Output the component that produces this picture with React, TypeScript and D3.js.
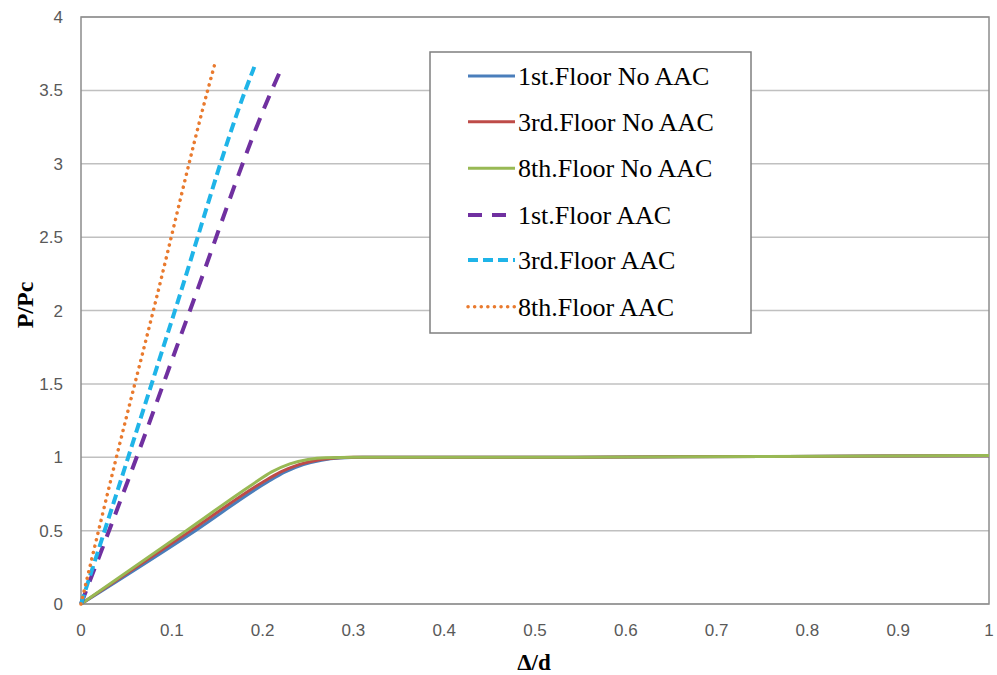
import React from "react";
import * as d3 from "d3";

const W = 997;
const H = 675;

const xTicks = [0, 0.1, 0.2, 0.3, 0.4, 0.5, 0.6, 0.7, 0.8, 0.9, 1];
const yTicks = [0, 0.5, 1, 1.5, 2, 2.5, 3, 3.5, 4];

const floor1NoX = [0, 0.126, 0.205, 0.225, 0.245, 0.265, 0.285, 0.31, 0.5, 0.66, 0.88, 1];
const floor1NoY = [0, 0.5, 0.83, 0.9, 0.95, 0.98, 0.995, 1.0, 1.0, 1.003, 1.008, 1.01];
const floor3NoX = [0, 0.121, 0.2, 0.22, 0.24, 0.26, 0.28, 0.3, 0.5, 0.66, 0.88, 1];
const floor3NoY = [0, 0.5, 0.83, 0.9, 0.95, 0.98, 0.995, 1.0, 1.0, 1.003, 1.008, 1.01];
const floor8NoX = [0, 0.116, 0.19, 0.21, 0.23, 0.25, 0.27, 0.3, 0.5, 0.66, 0.88, 1];
const floor8NoY = [0, 0.5, 0.82, 0.9, 0.955, 0.985, 0.997, 1.0, 1.0, 1.003, 1.008, 1.012];

const floor1AacX = [0, 0.0613, 0.12, 0.21, 0.222];
const floor1AacY = [0, 1, 2, 3.5, 3.667];
const floor3AacX = [0, 0.052, 0.1035, 0.181, 0.1909];
const floor3AacY = [0, 1, 2, 3.5, 3.66];
const floor8AacX = [0, 0.039, 0.0797, 0.1395, 0.1468];
const floor8AacY = [0, 1, 2, 3.5, 3.667];

const seriesNames = [
  "1st.Floor No AAC",
  "3rd.Floor No AAC",
  "8th.Floor No AAC",
  "1st.Floor AAC",
  "3rd.Floor AAC",
  "8th.Floor AAC",
];

type Style = { color: string; width: number; dash?: string; cap?: string };

const styles: Style[] = [
  { color: "#4a7ebb", width: 3 },
  { color: "#be4b48", width: 3 },
  { color: "#98b954", width: 3 },
  { color: "#7030a0", width: 4, dash: "14 10" },
  { color: "#1fb4e8", width: 4, dash: "10 5" },
  { color: "#e97a2e", width: 3.5, dash: "0.1 6.5", cap: "round" },
];

const seriesData: [number[], number[]][] = [
  [floor1NoX, floor1NoY],
  [floor3NoX, floor3NoY],
  [floor8NoX, floor8NoY],
  [floor1AacX, floor1AacY],
  [floor3AacX, floor3AacY],
  [floor8AacX, floor8AacY],
];

export default function App() {
  const x = d3.scaleLinear().domain([0, 1]).range([81, 989]);
  const y = d3.scaleLinear().domain([0, 4]).range([604, 17]);

  const line = d3
    .line<[number, number]>()
    .x((d) => x(d[0]))
    .y((d) => y(d[1]))
    .curve(d3.curveMonotoneX);

  const tickFont = "'Liberation Sans', Arial, sans-serif";
  const serif = "'Liberation Serif', 'Times New Roman', serif";

  const legendRows = [76, 121.7, 168.3, 215, 260, 306.7];

  return (
    <div style={{ position: "fixed", left: 0, top: 0 }}>
      <svg width={W} height={H} style={{ display: "block", background: "#fff" }}>
        {yTicks.map((t) => (
          <line key={"g" + t} x1={x(0)} x2={x(1)} y1={y(t)} y2={y(t)} stroke="#c0c0c0" strokeWidth={1.5} />
        ))}
        <rect x={x(0)} y={y(4)} width={x(1) - x(0)} height={y(0) - y(4)} fill="none" stroke="#8c8c8c" strokeWidth={1.5} />
        {yTicks.map((t) => (
          <text key={"y" + t} x={63} y={y(t) + 6} textAnchor="end" fontFamily={tickFont} fontSize={17} fill="#595959">
            {String(t)}
          </text>
        ))}
        {xTicks.map((t) => (
          <text key={"x" + t} x={x(t)} y={636} textAnchor="middle" fontFamily={tickFont} fontSize={17} fill="#595959">
            {String(t)}
          </text>
        ))}
        <text
          transform={`translate(33,305) rotate(-90)`}
          textAnchor="middle"
          fontFamily={serif}
          fontWeight="bold"
          fontSize={24}
          fill="#000"
        >
          P/Pc
        </text>
        <text x={534} y={670} textAnchor="middle" fontFamily={serif} fontWeight="bold" fontSize={23} fill="#000">
          Δ/d
        </text>
        {seriesData.map(([xs, ys], i) => {
          const pts: [number, number][] = xs.map((v, j) => [v, ys[j]]);
          const s = styles[i];
          return (
            <path
              key={"s" + i}
              d={line(pts) || ""}
              fill="none"
              stroke={s.color}
              strokeWidth={s.width}
              strokeDasharray={s.dash}
              strokeLinecap={(s.cap as any) || "butt"}
              strokeLinejoin="round"
            />
          );
        })}
        <rect x={430} y={52} width={321} height={281} fill="#fff" stroke="#7f7f7f" strokeWidth={1.5} />
        {seriesNames.map((name, i) => {
          const s = styles[i];
          const cy = legendRows[i];
          return (
            <g key={"l" + i}>
              <line
                x1={468}
                x2={515}
                y1={cy}
                y2={cy}
                stroke={s.color}
                strokeWidth={s.width}
                strokeDasharray={s.dash}
                strokeLinecap={(s.cap as any) || "butt"}
              />
              <text x={518} y={cy + 9} fontFamily={serif} fontSize={26} fill="#000">
                {name}
              </text>
            </g>
          );
        })}
      </svg>
    </div>
  );
}
